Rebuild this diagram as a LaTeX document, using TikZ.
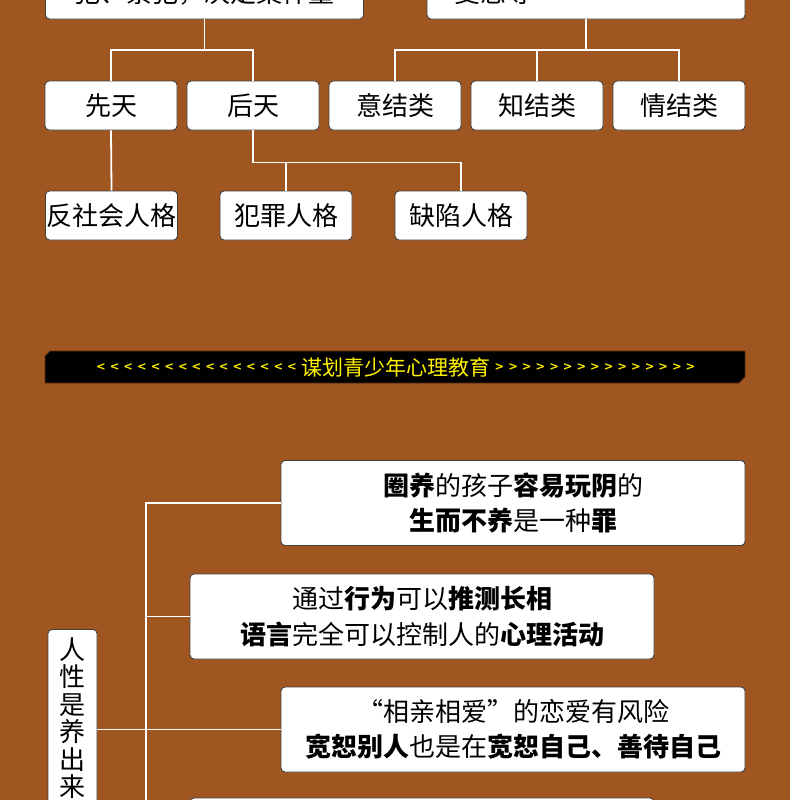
\documentclass[tikz,border=0pt]{standalone}
\usepackage{fontspec}
\setmainfont{Noto Sans CJK SC}
\newfontfamily\fwfont{Noto Sans CJK SC}[CharacterWidth=Full]
\newfontfamily\arrowfont{DejaVu Sans}
\definecolor{bgbrown}{RGB}{160,86,32}
\definecolor{bannerrim}{RGB}{95,48,16}
\definecolor{titleyellow}{RGB}{255,242,0}

\begin{document}
\begin{tikzpicture}[x=1pt, y=-1pt,
  box/.style={draw=black!75, line width=0.9pt, fill=white, rounded corners=4pt,
    inner sep=0pt, font=\fontsize{26}{30}\selectfont},
  rowbox/.style={box, minimum width=132, minimum height=49},
  wide/.style={box, minimum width=464, minimum height=85, align=center,
    font=\fontsize{26}{35.5}\selectfont},
  link/.style={draw=white, line width=1.8pt},
  arrowtext/.style={text=titleyellow, inner sep=0pt,
    font=\arrowfont\bfseries\fontsize{11.5}{12}\selectfont}]
  \useasboundingbox (0,0) rectangle (790,800);
  \fill[bgbrown] (0,0) rectangle (790,800);

  % top tree (boxes run off the top edge)
  \node[box, anchor=south, text width=264, inner xsep=27, inner ysep=14, align=center]
    (toplft) at (204.5,19.5) {犯、累犯，决定案件量};
  \node[box, anchor=south, text width=264, inner xsep=27, inner ysep=14, align=left]
    (toprgt) at (586,19.5) {变态等};
  \node[rowbox] (xiantian) at (111,105.5) {先天};
  \node[rowbox] (houtian)  at (253,105.5) {后天};
  \node[rowbox] (yijie)    at (395,105.5) {意结类};
  \node[rowbox] (zhijie)   at (537,105.5) {知结类};
  \node[rowbox] (qingjie)  at (679,105.5) {情结类};
  \node[rowbox] (fanshe)   at (111.5,215.5) {反社会人格};
  \node[rowbox] (fanzui)   at (286,215.5) {犯罪人格};
  \node[rowbox] (quexian)  at (461,215.5) {缺陷人格};

  \draw[link] (toplft.south) -- ++(0,30.5) coordinate (forkl);
  \draw[link] (xiantian.north) |- (forkl) -| (houtian.north);
  \draw[link] (toprgt.south) -- ++(0,30.5) coordinate (forkr);
  \draw[link] (yijie.north) |- (forkr) -| (qingjie.north);
  \draw[link] (zhijie.north) -- (zhijie.north |- forkr);
  \draw[link] (xiantian.south) -- (fanshe.north);
  \draw[link] (houtian.south) -- ++(0,32) coordinate (forkh) -| (quexian.north);
  \draw[link] (fanzui.north) -- (fanzui.north |- forkh);

  % banner
  \filldraw[fill=black, draw=bannerrim, line width=0.8pt]
    (50,351) -- (745,351) -- (745,377) -- (739,383) -- (45,383) -- (45,356) -- cycle;
  \node[arrowtext] (leftarr) at (196.5,367.5)
    {< < < < < < < < < < < < < < <};
  \node[text=titleyellow, inner sep=0pt, font=\fontsize{21}{21}\selectfont]
    (title) at (395.5,367) {谋划青少年心理教育};
  \node[arrowtext] (rightarr) at (595,367.5)
    {> > > > > > > > > > > > > > >};

  % lower tree
  \node[box, anchor=north, minimum width=49, inner ysep=8, align=center,
    font=\fontsize{26}{27.5}\selectfont]
    (xingbox) at (72.5,629) {人\\性\\是\\养\\出\\来\\的};
  \node[wide] (boxa) at (513,503)
    {\textbf{圈养}的孩子\textbf{容易玩阴}的\\\textbf{生而不养}是一种\textbf{罪}};
  \node[wide] (boxb) at (422,616.5)
    {通过\textbf{行为}可以\textbf{推测长相}\\\textbf{语言}完全可以控制人的\textbf{心理活动}};
  \node[wide] (boxc) at (513,729.5)
    {{\fwfont “}相亲相爱{\fwfont ”}的恋爱有风险\\\textbf{宽恕别人}也是在\textbf{宽恕自己、善待自己}};
  \node[wide] (boxd) at (422,840.5) {};

  \coordinate (trunk) at (146,0);
  \draw[link] (boxa.west) -- (boxa.west -| trunk) |- (boxd.west);
  \draw[link] (boxb.west) -- (boxb.west -| trunk);
  \draw[link] (boxc.west) -- (xingbox.east |- boxc.west);
\end{tikzpicture}
\end{document}
